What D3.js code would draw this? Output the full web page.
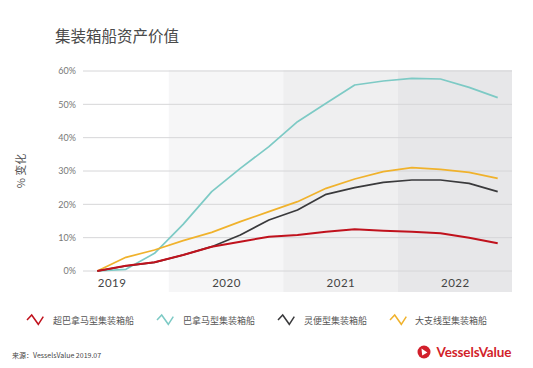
<!DOCTYPE html>
<html><head><meta charset="utf-8">
<script src="https://cdn.jsdelivr.net/npm/d3@7"></script>
<style>body{margin:0;background:#fff}svg{display:block}</style>
</head><body>
<svg id="c" width="533" height="368"></svg>
<script>
const periods = [2019.375,2019.625,2019.875,2020.125,2020.375,2020.625,2020.875,2021.125,2021.375,2021.625,2021.875,2022.125,2022.375,2022.625,2022.875];
const seriesNames = ["超巴拿马型集装箱船","巴拿马型集装箱船","灵便型集装箱船","大支线型集装箱船"];
const postPanamax = [0,1.6,2.6,4.8,7.3,8.8,10.3,10.8,11.8,12.5,12.1,11.8,11.3,10.0,8.3];
const panamax = [0,0.5,5.3,14.0,23.8,30.8,37.3,44.8,50.3,55.8,57.0,57.8,57.6,55.1,52.0];
const handysize = [0,1.5,2.6,4.8,7.3,10.8,15.3,18.3,23.0,25.0,26.6,27.3,27.3,26.3,23.8];
const feeder = [0,4.1,6.3,9.1,11.6,14.8,17.8,20.8,24.8,27.6,29.8,31.0,30.5,29.6,27.8];
const years = [2019,2020,2021,2022];
const yTicks = [0,10,20,30,40,50,60];
const colors = ["#c0121d","#7dcac5","#3a3a3c","#f0b22c"];
const allSeries = [postPanamax, panamax, handysize, feeder];

const svg = d3.select("#c");
const x = d3.scaleLinear().domain([2019.25, 2023]).range([83, 512]);
const y = d3.scaleLinear().domain([0, 60]).range([271, 71]);

// title
svg.append("text").attr("x",55).attr("y",42).attr("font-family","Noto Sans CJK SC").attr("font-size",15.5).attr("fill","#4a4a4a").text("集装箱船资产价值");

// year bands
const bandFill = ["#ffffff","#f6f6f7","#efeff0","#e7e7e9"];
svg.selectAll("rect.band").data(years).enter().append("rect")
  .attr("x", d => Math.max(x(d), x.range()[0]))
  .attr("width", d => x(d+1) - Math.max(x(d), x.range()[0]))
  .attr("y", 70).attr("height", 222)
  .attr("fill", (d,i) => bandFill[i]);

// grid
svg.selectAll("line.grid").data(yTicks).enter().append("line")
  .attr("x1", 83).attr("x2", 512).attr("y1", d => y(d)).attr("y2", d => y(d))
  .attr("stroke", "#d6d6d8").attr("stroke-width", 1);

// y axis labels
const yAxis = d3.axisLeft(y).tickValues(yTicks).tickFormat(d => d + "%").tickSize(0).tickPadding(0);
const ya = svg.append("g").attr("transform","translate(76,0)").call(yAxis);
ya.select(".domain").remove();
ya.selectAll("text").attr("font-family","Lato").attr("font-size",9).attr("fill","#777");

// x axis labels
const xAxis = d3.axisBottom(x).tickValues(years.map(d => d + 0.5)).tickFormat((d,i) => years[i]).tickSize(0).tickPadding(0);
const xa = svg.append("g").attr("transform","translate(0,279)").call(xAxis);
xa.select(".domain").remove();
xa.selectAll("text").attr("font-family","Lato").attr("font-size",11.5).attr("fill","#444").attr("letter-spacing","0.5");

// y title
svg.append("text").attr("transform","translate(25,171) rotate(-90)").attr("text-anchor","middle")
  .attr("font-family","Noto Sans CJK SC").attr("font-size",11).attr("fill","#555").text("% 变化");

// lines
const line = d3.line().x((d,i) => x(periods[i])).y(d => y(d));
const order = [1,3,2,0];
order.forEach(k => {
  svg.append("path").datum(allSeries[k]).attr("d", line).attr("fill","none")
    .attr("stroke", colors[k]).attr("stroke-width", k===0 ? 2 : 1.7).attr("stroke-linejoin","round");
});

// legend
const legX = [27, 157, 278, 390];
const legTX = [53, 183, 304, 415];
seriesNames.forEach((n,i) => {
  const g = svg.append("g").attr("transform",`translate(${legX[i]},315)`);
  g.append("polyline").attr("points","0,5 4.7,0 11.3,9.3 16.3,1.7").attr("fill","none")
    .attr("stroke",colors[i]).attr("stroke-width",1.5);
  svg.append("text").attr("x",legTX[i]).attr("y",324).attr("font-family","Noto Sans CJK SC")
    .attr("font-size",9).attr("fill","#555").text(n);
});

// source
svg.append("text").attr("x",12).attr("y",358).attr("font-family","Noto Sans CJK SC").attr("font-size",7).attr("fill","#444").text("来源：VesselsValue 2019.07");

// logo
const lg = svg.append("g").attr("transform","translate(424,352)");
lg.append("circle").attr("r",6.5).attr("fill","#d21f2b");
lg.append("path").attr("d","M-2.5,-3.4 L3.4,0.6 L-1.8,3.6 Z").attr("fill","#fff");
svg.append("text").attr("x",436.5).attr("y",356.5).attr("font-family","Lato").attr("font-weight","bold")
  .attr("font-size",13.5).attr("fill","#d21f2b").attr("textLength",75).text("VesselsValue");
</script>
</body></html>
